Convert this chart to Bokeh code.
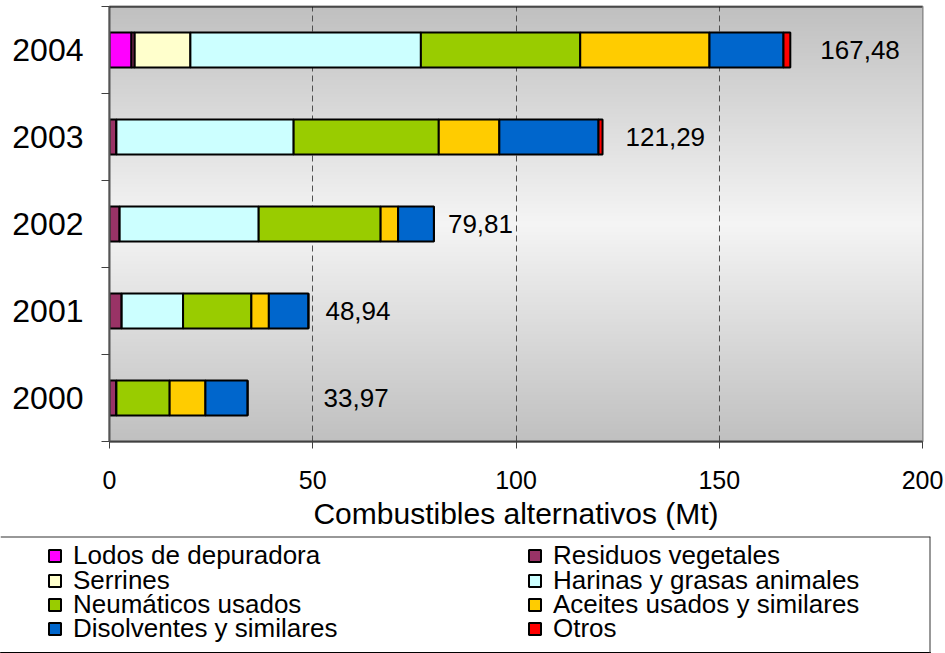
import numpy as np
from bokeh.plotting import figure
from bokeh.models import (ColumnDataSource, Range1d, LinearAxis,
                          FixedTicker, Span, Legend, LegendItem, Grid)
from bokeh.embed import file_html
from bokeh.resources import INLINE
from bokeh.core.properties import value

# ---- data ----
years = ["2000", "2001", "2002", "2003", "2004"]
series = ["Lodos de depuradora", "Residuos vegetales", "Serrines", "Harinas y grasas animales",
          "Neumáticos usados", "Aceites usados y similares", "Disolventes y similares", "Otros"]
colors = ["#FF00FF", "#993366", "#FFFFCC", "#CCFFFF", "#99CC00", "#FFCC00", "#0066CC", "#FF0000"]

lodos = [0, 0, 0, 0, 5.4]
residuos = [1.7, 3.0, 2.5, 1.7, 0.8]
serrines = [0, 0, 0, 0, 13.7]
harinas = [0, 15.1, 34.2, 43.6, 56.7]
neumaticos = [13.1, 16.8, 30.0, 35.7, 39.2]
aceites = [8.8, 4.3, 4.3, 14.9, 31.8]
disolventes = [10.37, 9.74, 8.81, 24.4, 18.2]
otros = [0, 0, 0, 0.99, 1.68]
totals = [33.97, 48.94, 79.81, 121.29, 167.48]
x_ticks = [0, 50, 100, 150, 200]

# label placement (pixels to the right of bar end)
label_offsets = [76, 17, 14, 23, 30]

FONT = "Liberation Sans"

nyear = len(years)
ypos = [i + 0.5 for i in range(nyear)]          # category centres
ybounds = [i for i in range(nyear + 1)]         # category boundaries

data = dict(y=ypos)
for name, vals in zip(series, [lodos, residuos, serrines, harinas, neumaticos, aceites, disolventes, otros]):
    data[name] = vals
src = ColumnDataSource(data)

lab_src = ColumnDataSource(dict(
    y=ypos, total=totals,
    label=[f"{v:.2f}".replace(".", ",") for v in totals],
    off=label_offsets))

p = figure(width=945, height=536, x_range=Range1d(0, 200), y_range=Range1d(0, nyear),
           x_axis_location=None, y_axis_location=None, toolbar_location=None,
           output_backend="svg", min_border_left=109, min_border_right=23,
           min_border_top=6, min_border_bottom=95)
p.xgrid.visible = False
p.ygrid.visible = False
p.outline_line_color = "#808080"
p.outline_line_width = 2
p.background_fill_color = "#C0C0C0"

# vertical gradient background (grey - light - grey)
n = 256
t = (np.arange(n) + 0.5) / n
g = (192 + 53 * (1 - np.abs(2 * t - 1))).astype(np.uint8)
img = np.empty((n, 1), dtype=np.uint32)
view = img.view(dtype=np.uint8).reshape((n, 1, 4))
view[:, 0, 0] = g
view[:, 0, 1] = g
view[:, 0, 2] = g
view[:, 0, 3] = 255
p.image_rgba(image=[img], x=0, y=0, dw=200, dh=nyear, level="image")

# grid
grid = Grid(dimension=0, ticker=FixedTicker(ticks=x_ticks[1:-1]), grid_line_color="#505050",
            grid_line_dash="6 4", grid_line_width=1)
p.add_layout(grid, "center")

# bars
p.hbar_stack(series, y="y", height=0.4, color=colors, source=src,
             line_color="black", line_width=2)

# value labels
p.text(x="total", y="y", text="label", x_offset="off", source=lab_src,
       text_baseline="middle", text_align="left", text_font=value(FONT),
       text_font_size="26px", text_color="black")

# top border line
p.add_layout(Span(location=nyear, dimension="width", line_color="black", line_width=2))

# axes
xaxis = LinearAxis(ticker=FixedTicker(ticks=x_ticks), axis_label="Combustibles alternativos (Mt)")
xaxis.axis_line_color = "#404040"
xaxis.axis_line_width = 2
xaxis.major_tick_line_color = "#404040"
xaxis.major_tick_in = 0
xaxis.major_tick_out = 7
xaxis.minor_tick_line_color = None
xaxis.major_label_text_font = FONT
xaxis.major_label_text_font_size = "25px"
xaxis.major_label_text_color = "black"
xaxis.major_label_standoff = 22
xaxis.axis_label_text_font = FONT
xaxis.axis_label_text_font_size = "30px"
xaxis.axis_label_text_font_style = "normal"
xaxis.axis_label_text_color = "black"
xaxis.axis_label_standoff = 5
p.add_layout(xaxis, "below")

ytick_axis = LinearAxis(ticker=FixedTicker(ticks=ybounds))
ytick_axis.axis_line_color = "#555555"
ytick_axis.axis_line_width = 2
ytick_axis.major_tick_line_color = "#404040"
ytick_axis.major_tick_in = 0
ytick_axis.major_tick_out = 8
ytick_axis.minor_tick_line_color = None
ytick_axis.major_label_text_font_size = "0px"
ytick_axis.major_label_standoff = 0
ytick_axis.major_label_overrides = {b: "" for b in ybounds}
p.add_layout(ytick_axis, "left")

ylab_axis = LinearAxis(ticker=FixedTicker(ticks=ypos))
ylab_axis.major_label_overrides = {yv: yr for yv, yr in zip(ypos, years)}
ylab_axis.axis_line_color = None
ylab_axis.major_tick_line_color = None
ylab_axis.minor_tick_line_color = None
ylab_axis.major_label_text_font = FONT
ylab_axis.major_label_text_font_size = "32px"
ylab_axis.major_label_text_color = "black"
ylab_axis.major_label_standoff = 12
p.add_layout(ylab_axis, "left")

# ---- legend panel (separate root so its frame is not aligned with the chart) ----
LEG_H = 117
p2 = figure(width=945, height=LEG_H, x_range=Range1d(0, 1), y_range=Range1d(0, 1),
            x_axis_location=None, y_axis_location=None, toolbar_location=None,
            output_backend="svg", min_border_left=0, min_border_right=15,
            min_border_top=0, min_border_bottom=0,
            outline_line_color=None, outline_line_alpha=0)
p2.xgrid.visible = False
p2.ygrid.visible = False
p2.add_layout(Span(location=1, dimension="width", line_color="#333333", line_width=2))
p2.add_layout(Span(location=1, dimension="height", line_color="#333333", line_width=2))

# legend layout: 2 columns x 4 rows (screen pixels)
col_x = [47, 527]
row_centres = [20, 44.5, 69, 93]   # from top of legend panel
ITEM_H = 30

for i, (name, c) in enumerate(zip(series, colors)):
    # legend swatch proxy (lies outside the visible range)
    r = p2.hbar(y=[-10], left=[0], right=[1], height=0.5, fill_color=c,
                line_color="black", line_width=2)
    col, row = i % 2, i // 2
    loc = (col_x[col], LEG_H - row_centres[row] - ITEM_H / 2)
    lg = Legend(items=[LegendItem(label=name, renderers=[r])], location=loc,
                glyph_width=15, glyph_height=15, label_height=ITEM_H, label_standoff=11,
                spacing=0, padding=0, margin=0, border_line_color=None,
                background_fill_alpha=0, label_text_font=FONT, label_text_font_size="26px",
                label_text_color="black", label_text_baseline="middle")
    p2.add_layout(lg, "center")

open("out.html", "w").write(file_html([p, p2], INLINE))
